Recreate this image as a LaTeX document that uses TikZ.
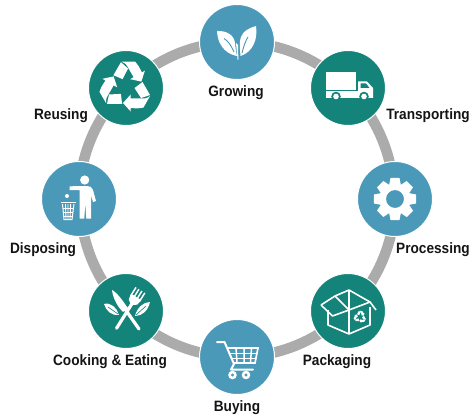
\documentclass[tikz,border=0pt]{standalone}
\usepackage{fontspec}
\setmainfont[FakeStretch=0.91,BoldFont={Liberation Sans Bold}]{Liberation Sans}
\usetikzlibrary{backgrounds}
\definecolor{cblue}{RGB}{74,153,184}
\definecolor{cteal}{RGB}{20,131,121}
\definecolor{cring}{RGB}{171,171,171}
\definecolor{ctext}{RGB}{20,20,20}
\tikzset{
  stage/.style={circle,minimum size=75pt,inner sep=0pt,draw=white,line width=1pt},
  bluestage/.style={stage,fill=cblue},
  tealstage/.style={stage,fill=cteal},
  ringarc/.style={draw=cring,line width=10.5pt},
  lab/.style={font=\fontsize{15}{15}\selectfont\bfseries,text=ctext,inner sep=0pt},
  wline/.style={draw=white,line width=1.6pt,line join=round,fill=none}
}
\newcommand{\recyclearrow}{%
  \fill[white] (-3,16) -- (4.7,7.5) -- (4.7,11.5) -- (16,11.5) .. controls (20,11.5) .. (24,9) -- (17.5,20.5) .. controls (12,21.5) .. (4.7,21) -- (4.7,24.5) -- cycle;
  \fill[white] (8.5,1) -- (16.5,-5) -- (24,8) -- (15,11) -- cycle;
}
\newcommand{\recyclesym}{%
  \recyclearrow
  \begin{scope}[rotate=-120]\recyclearrow\end{scope}
  \begin{scope}[rotate=-240]\recyclearrow\end{scope}
}
\begin{document}
\begin{tikzpicture}[x=1pt,y=-1pt]
\useasboundingbox (0,0) rectangle (473,417);
\node[bluestage] (grow) at (237,42) {};
\node[tealstage] (trans) at (348,88) {};
\node[bluestage] (proc) at (395,199) {};
\node[tealstage] (pack) at (348,311) {};
\node[bluestage] (buy) at (237,357) {};
\node[tealstage] (cook) at (126,311) {};
\node[bluestage] (disp) at (79,199) {};
\node[tealstage] (reuse) at (126,88) {};
\begin{scope}[on background layer]
  \draw[ringarc] (grow.center) arc[start angle=90,end angle=45,radius=157pt];
  \draw[ringarc] (trans.center) arc[start angle=45,end angle=0,radius=157pt];
  \draw[ringarc] (proc.center) arc[start angle=0,end angle=-45,radius=157pt];
  \draw[ringarc] (pack.center) arc[start angle=-45,end angle=-90,radius=157pt];
  \draw[ringarc] (buy.center) arc[start angle=-90,end angle=-135,radius=157pt];
  \draw[ringarc] (cook.center) arc[start angle=-135,end angle=-180,radius=157pt];
  \draw[ringarc] (disp.center) arc[start angle=-180,end angle=-225,radius=157pt];
  \draw[ringarc] (reuse.center) arc[start angle=-225,end angle=-270,radius=157pt];
\end{scope}
\node[lab] (lgrow) at (236,93) {Growing};
\node[lab] (ltrans) at (428,116) {Transporting};
\node[lab] (lproc) at (433,250) {Processing};
\node[lab] (lpack) at (337,362) {Packaging};
\node[lab] (lbuy) at (237,408) {Buying};
\node[lab] (lcook) at (110,362) {Cooking \& Eating};
\node[lab] (ldisp) at (43,250) {Disposing};
\node[lab] (lreuse) at (61,116) {Reusing};
% leaves
\begin{scope}[shift={(grow.center)}]
  \fill[white] (-20,-11) .. controls (-12,-11.5) and (-3,-8) .. (-2,1) .. controls (-1.5,6) and (-1,10) .. (0,14) .. controls (-6,13) and (-19,8) .. (-20,-11) -- cycle;
  \fill[white] (19,-16) .. controls (21,-3) and (16,10) .. (3.5,14) .. controls (3,8) and (2,-1) .. (4,-5) .. controls (6,-11) and (12,-14) .. (19,-16) -- cycle;
  \fill[white] (-1,1) -- (1,3) -- (1.4,18) -- (0.6,18) -- cycle;
  \draw[cblue,line width=0.9pt] (-13,-3.5) .. controls (-9,-1) and (-6,3) .. (-3,10);
  \draw[cblue,line width=0.9pt] (11,-5) .. controls (9,-2) and (7,3) .. (5,11);
\end{scope}
% truck
\begin{scope}[shift={(trans.center)}]
  \fill[white] (-22,-16) rectangle (8,2);
  \fill[white] (10,-6.5) -- (19,-6.5) .. controls (22,-3) .. (25,0) -- (25,10) -- (10,10) -- cycle;
  \fill[white] (-22,3.5) rectangle (25,10);
  \fill[cteal] (12.5,-4.5) -- (18,-4.5) -- (21.5,0) -- (12.5,0) -- cycle;
  \fill[cteal] (-12,8.5) circle (4.8); \fill[white] (-12,8.5) circle (2.8);
  \fill[cteal] (16,8.5) circle (4.8); \fill[white] (16,8.5) circle (2.8);
\end{scope}
% gear
\begin{scope}[shift={(proc.center)}]
  \fill[white,even odd rule]
  (-22:15.5) \foreach \a in {0,45,...,315}{
     -- ({\a-22}:15.5) -- ({\a-12}:21.5) -- ({\a+12}:21.5) -- ({\a+22}:15.5)
  } -- cycle (0,0) circle (9);
\end{scope}
% box
\begin{scope}[shift={(pack.center)}]
  \draw[wline] (-20,-1) -- (-20,14) -- (1,23) -- (22,14) -- (22,-4);
  \draw[wline] (1,-21) -- (1,23);
  \draw[wline] (-27,-6) -- (-13,-15) -- (1,-21) -- (22,-9) -- (28,-1);
  \draw[wline] (-27,-6) -- (-15.5,5) -- (1,-1) -- (22,-9);
  \draw[wline] (-13,-15) -- (1,-1);
  \begin{scope}[shift={(12,6)},scale=0.24]\recyclesym\end{scope}
\end{scope}
% cart
\begin{scope}[shift={(buy.center)}]
  \draw[white,line width=2pt,line join=round,line cap=round] (-20,-15) -- (-12.5,-15) -- (-3,7) -- (-6,12.5) -- (16,12.5);
  \draw[white,line width=1.7pt] (-10,-9) -- (21,-9) -- (18,6) -- (-3.5,6);
  \draw[white,line width=1.5pt] (-8,-3.5) -- (20,-3.5) (-6,1.5) -- (19,1.5);
  \draw[white,line width=1.5pt] (-1,-9) -- (0,6) (7,-9) -- (7,6) (14.5,-9) -- (13.5,6);
  \fill[white,even odd rule] (-4.5,18) circle (4.3) (-4.5,18) circle (1.8);
  \fill[white,even odd rule] (9,18) circle (4.3) (9,18) circle (1.8);
\end{scope}
% person and bin
\begin{scope}[shift={(disp.center)}]
  \fill[white] (5.7,-19) circle (4.6);
  \fill[white] (-9.5,-12.5) -- (-3,-13) -- (8,-13) .. controls (11,-13) and (13,-12) .. (14,-9) -- (17,2) -- (14,3) -- (12,-4) -- (12,5) -- (12,19.5) -- (7.3,19.5) -- (6.3,4) -- (5.3,19.5) -- (0.5,19.5) -- (0.5,5) -- (0.5,-9) -- (-9.5,-9) -- cycle;
  \fill[white] (-12,-3) circle (2);
  \draw[white,line width=1.6pt] (-18,3.5) -- (-3,3.5);
  \draw[white,line width=1pt] (-16.5,5) -- (-15,20.5) -- (-7,20.5) -- (-5,5);
  \draw[white,line width=0.9pt] (-16.5,9) -- (-5.5,9) (-16,13) -- (-6,13) (-15.5,17) -- (-6.5,17);
  \draw[white,line width=0.9pt] (-13.5,5) -- (-13,20) (-11,5) -- (-11,20) (-8.3,5) -- (-9,20);
\end{scope}
% cooking
\begin{scope}[shift={(cook.center)}]
  \fill[white] (-14,-21) .. controls (-8,-18) and (-2,-8) .. (2,-3) -- (-3,1) .. controls (-8,-4) and (-13,-12) .. (-14,-21) -- cycle;
  \draw[white,line width=3.2pt,line cap=round] (-1,-2) -- (13,18);
  \begin{scope}[shift={(7,-9)},rotate=-32]
    \draw[white,line width=3.2pt,line cap=round] (0,0) -- (0,31);
    \fill[white] (-6,-6) -- (6,-6) -- (5,0) -- (1,3) -- (-1,3) -- (-5,0) -- cycle;
    \draw[white,line width=1.5pt] (-5.2,-14) -- (-5.2,-4) (-1.75,-14) -- (-1.75,-4) (1.75,-14) -- (1.75,-4) (5.2,-14) -- (5.2,-4);
  \end{scope}
  \fill[white] (-22,-7) .. controls (-15,-9) and (-9,-3) .. (-7,4) .. controls (-14,5) and (-20,0) .. (-22,-7) -- cycle;
  \draw[cteal,line width=0.6pt] (-18,-4) -- (-8,3);
  \fill[white] (24,-9) .. controls (17,-9) and (11,-3) .. (9,5) .. controls (16,5) and (22,0) .. (24,-9) -- cycle;
  \draw[cteal,line width=0.6pt] (20,-5) -- (10,4);
\end{scope}
% recycle
\begin{scope}[shift={([yshift=1pt]reuse.center)}]
  \recyclesym
\end{scope}
\end{tikzpicture}
\end{document}
